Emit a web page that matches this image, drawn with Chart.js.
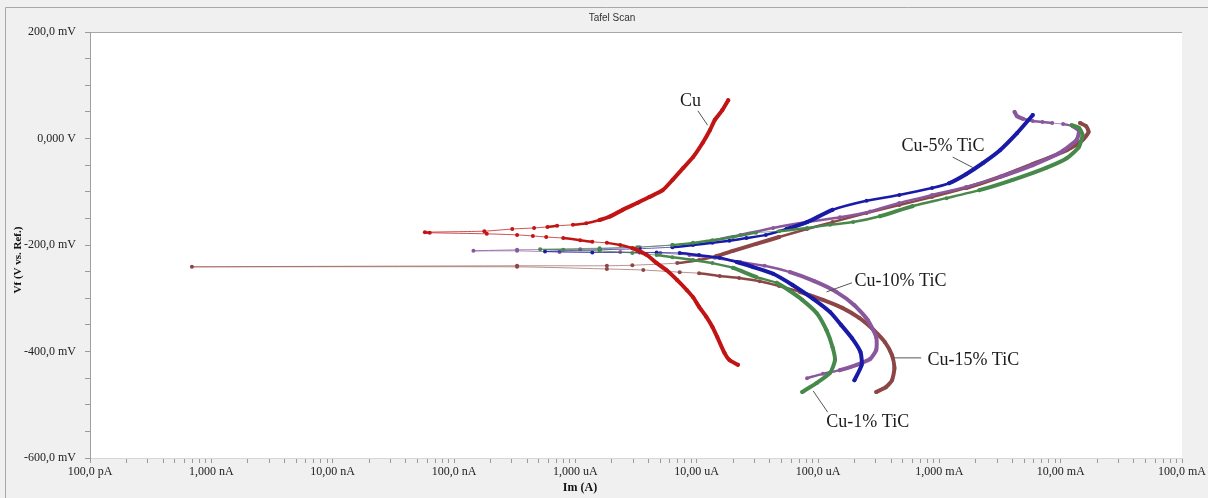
<!DOCTYPE html>
<html>
<head>
<meta charset="utf-8">
<title>Tafel Scan</title>
<script src="https://cdn.jsdelivr.net/npm/chart.js@4/dist/chart.umd.min.js"></script>
<style>
  html, body { margin: 0; padding: 0; background: #f0f0f0; }
  #wrap { width: 1208px; height: 498px; position: relative; }
</style>
</head>
<body>
<div id="wrap"><canvas id="tafelChart"></canvas></div>
<script>
// values: current as log10(A), potential in mV
// each scan runs from the cathodic end, through Ecorr, to the anodic end
const seriesNames = ['Cu', 'Cu-1% TiC', 'Cu-5% TiC', 'Cu-10% TiC', 'Cu-15% TiC'];

const cuLogI = [-4.66, -4.73, -4.77, -4.83, -4.87, -4.92, -4.98, -5.03, -5.08, -5.16, -5.25, -5.33, -5.41,
  -5.53, -5.63, -5.74, -5.86, -5.96, -6.10, -6.24, -6.35, -6.48, -6.73, -7.20, -7.24,
  -6.75, -6.52, -6.34, -6.23, -6.15, -6.02, -5.91, -5.80, -5.72, -5.61, -5.49, -5.39, -5.28, -5.20,
  -5.11, -5.03, -4.95, -4.89, -4.85, -4.79, -4.74];
const cuMv = [-425, -416, -403, -373, -354, -335, -316, -298, -285, -266, -247, -234, -219,
  -206, -200, -196, -194, -191, -187, -185, -183, -181, -179, -177, -176,
  -174, -170, -168, -166, -164, -162, -159, -153, -147, -134, -121, -110, -97, -78,
  -55, -35, -8, 16, 35, 53, 72];

const tic1LogI = [-4.13, -4.01, -3.90, -3.86, -3.88, -3.93, -4.01, -4.13, -4.24, -4.34, -4.51, -4.70, -4.87,
  -5.03, -5.20, -5.33, -5.53, -5.80, -6.10, -6.29,
  -5.80, -5.49, -5.20, -5.03, -4.87, -4.70, -4.51, -4.32, -4.09, -3.90, -3.71, -3.49, -3.22, -2.94,
  -2.67, -2.40, -2.12, -1.95, -1.85, -1.82, -1.85, -1.91];
const tic1Mv = [-476, -459, -440, -416, -392, -360, -328, -303, -285, -271, -260, -243, -234,
  -228, -223, -219, -215, -211, -209, -208,
  -206, -204, -200, -196, -191, -185, -177, -174, -168, -162, -157, -146, -127, -112,
  -97, -78, -55, -37, -16, 7, 20, 25];

const tic5LogI = [-3.70, -3.64, -3.65, -3.72, -3.81, -3.90, -4.04, -4.21, -4.37, -4.54, -4.67, -4.81, -4.98,
  -5.14, -5.33, -5.47, -5.86, -6.25,
  -5.80, -5.47, -5.20, -5.03, -4.87, -4.73, -4.59, -4.43, -4.26, -4.09, -3.88, -3.60, -3.33, -3.06,
  -2.92, -2.78, -2.64, -2.50, -2.36, -2.23];
const tic5Mv = [-454, -425, -401, -375, -350, -326, -301, -275, -254, -241, -232, -224, -219,
  -215, -214, -214, -214, -212,
  -209, -207, -204, -200, -196, -192, -187, -181, -170, -157, -134, -117, -106, -93,
  -84, -67, -46, -22, 10, 44];

const tic10LogI = [-4.09, -3.96, -3.82, -3.68, -3.57, -3.52, -3.52, -3.59, -3.70, -3.85, -4.03, -4.23, -4.44,
  -4.64, -4.85, -5.06, -5.30, -5.63, -6.13, -6.48, -6.84,
  -6.48, -5.96, -5.47, -5.20, -4.92, -4.64, -4.37, -4.09, -3.82, -3.57, -3.33, -3.06, -2.78, -2.50,
  -2.23, -2.01, -1.87, -1.85, -1.90, -1.98, -2.07, -2.15, -2.23, -2.31, -2.36, -2.38];
const tic10Mv = [-450, -442, -435, -425, -414, -397, -373, -341, -313, -288, -268, -251, -239,
  -232, -224, -219, -215, -213, -213, -211, -211,
  -209, -208, -204, -200, -194, -181, -168, -157, -148, -137, -121, -106, -91, -72,
  -50, -27, -3, 14, 23, 27, 29, 31, 33, 37, 42, 50];

const tic15LogI = [-3.52, -3.44, -3.39, -3.37, -3.39, -3.45, -3.54, -3.66, -3.80, -3.96, -4.15, -4.32, -4.48,
  -4.65, -4.81, -4.98, -5.14, -5.44, -5.74, -6.48, -9.16,
  -6.48, -5.74, -5.53, -5.16, -4.98, -4.84, -4.70, -4.51, -4.32, -4.09, -3.88, -3.60, -3.33, -3.06,
  -2.78, -2.50, -2.23, -1.95, -1.82, -1.77, -1.79, -1.84];
const tic15Mv = [-476, -467, -454, -431, -407, -382, -360, -337, -318, -303, -288, -277, -268,
  -262, -258, -253, -251, -247, -245, -241, -241,
  -239, -239, -238, -234, -228, -221, -211, -198, -185, -170, -157, -140, -125, -110,
  -93, -72, -48, -22, -3, 12, 23, 29];

// axis ticks
const xTickLabels = ['100,0 pA', '1,000 nA', '10,00 nA', '100,0 nA', '1,000 uA', '10,00 uA',
  '100,0 uA', '1,000 mA', '10,00 mA', '100,0 mA'];
const yTickValues = [200, 0, -200, -400, -600];
const yTickLabels = ['200,0 mV', '0,000 V', '-200,0 mV', '-400,0 mV', '-600,0 mV'];

// decade ticks plus log minors (2..9)
const xTickValues = [];
xTickLabels.forEach((_, i) => {
  const decade = Math.pow(10, i - 10);
  const last = i === xTickLabels.length - 1;
  for (let k = 1; k <= (last ? 1 : 9); k++) xTickValues.push(k * decade);
});

const colors = ['#c21414', '#46894a', '#1a1aa8', '#8a579c', '#8d4646'];
const thinColors = ['rgba(194,20,20,0.75)', 'rgba(70,137,74,0.7)', 'rgba(26,26,168,0.7)',
  'rgba(138,87,156,0.7)', 'rgba(141,70,70,0.6)'];
const series = [
  [cuLogI, cuMv], [tic1LogI, tic1Mv], [tic5LogI, tic5Mv], [tic10LogI, tic10Mv], [tic15LogI, tic15Mv]
];

// curve labels with leader lines, in data units (log10 A, mV)
const notes = [
  { text: 'Cu', at: [-5.05, 70], line: [[-4.99, 52], [-4.91, 25]] },
  { text: 'Cu-5% TiC', at: [-2.97, -14], line: [[-2.89, -35], [-2.72, -55]] },
  { text: 'Cu-10% TiC', at: [-3.32, -268], line: [[-3.72, -271], [-3.93, -288]] },
  { text: 'Cu-15% TiC', at: [-2.72, -416], line: [[-3.15, -412], [-3.39, -412]] },
  { text: 'Cu-1% TiC', at: [-3.59, -532], line: [[-3.92, -514], [-4.04, -474]] }
];

// the scan points are spread out where the curve runs flat, and pile up where it climbs
function segSlope(ctx) {
  const dx = Math.abs(ctx.p1.x - ctx.p0.x);
  const dy = Math.abs(ctx.p1.y - ctx.p0.y);
  return dy / Math.max(dx, 0.01);
}
function segWidth(ctx) {
  const slope = segSlope(ctx);
  if (slope < 0.1) return 1;
  if (slope < 0.3) return 2.5;
  return 4;
}

const frame = {
  id: 'frame',
  beforeDraw(chart) {
    const { ctx, chartArea: a, width, height } = chart;
    ctx.save();
    ctx.fillStyle = '#f0f0f0';
    ctx.fillRect(0, 0, width, height);
    ctx.fillStyle = '#ffffff';
    ctx.fillRect(a.left, a.top, a.right - a.left, a.bottom - a.top);
    ctx.strokeStyle = '#a8a8a8';
    ctx.lineWidth = 1;
    ctx.beginPath();
    ctx.moveTo(5.5, height);
    ctx.lineTo(5.5, 7.5);
    ctx.lineTo(width, 7.5);
    ctx.moveTo(a.left, a.top + 0.5);
    ctx.lineTo(a.right, a.top + 0.5);
    ctx.stroke();

    ctx.fillStyle = '#333';
    ctx.font = '10px "Liberation Sans", Arial, sans-serif';
    ctx.textAlign = 'center';
    ctx.textBaseline = 'middle';
    ctx.fillText('Tafel Scan', 612, 18);

    ctx.fillStyle = '#111';
    ctx.font = 'bold 12px "Liberation Serif", "Times New Roman", serif';
    ctx.fillText('Im (A)', 580, 488);
    ctx.translate(18, 260);
    ctx.rotate(-Math.PI / 2);
    ctx.font = 'bold 11px "Liberation Serif", "Times New Roman", serif';
    ctx.fillText('Vf (V vs. Ref.)', 0, 0);
    ctx.restore();
  },
  afterDatasetsDraw(chart) {
    const { ctx, scales: { x, y } } = chart;
    const px = p => [x.getPixelForValue(Math.pow(10, p[0])), y.getPixelForValue(p[1])];
    ctx.save();
    ctx.strokeStyle = '#555';
    ctx.lineWidth = 1;
    ctx.fillStyle = '#1a1a1a';
    ctx.font = '18px "Liberation Serif", "Times New Roman", serif';
    ctx.textAlign = 'center';
    ctx.textBaseline = 'middle';
    notes.forEach(n => {
      const [x0, y0] = px(n.line[0]);
      const [x1, y1] = px(n.line[1]);
      ctx.beginPath();
      ctx.moveTo(x0, y0);
      ctx.lineTo(x1, y1);
      ctx.stroke();
      const [tx, ty] = px(n.at);
      ctx.fillText(n.text, tx, ty);
    });
    ctx.restore();
  }
};

const tickFont = { family: '"Liberation Serif", "Times New Roman", serif', size: 12 };

new Chart(document.getElementById('tafelChart'), {
  type: 'scatter',
  data: {
    datasets: series.map(([logI, mv], i) => ({
      label: seriesNames[i],
      data: logI.map((l, j) => ({ x: Math.pow(10, l), y: mv[j] })),
      showLine: true,
      borderColor: colors[i],
      backgroundColor: colors[i],
      borderWidth: 1,
      borderJoinStyle: 'round',
      borderCapStyle: 'round',
      tension: 0.2,
      pointRadius: 2,
      pointBorderWidth: 0,
      pointBackgroundColor: colors[i],
      segment: {
        borderWidth: segWidth,
        borderColor: ctx => (segSlope(ctx) < 0.1 ? thinColors[i] : colors[i])
      }
    }))
  },
  options: {
    responsive: true,
    maintainAspectRatio: false,
    animation: false,
    layout: { padding: { top: 32, right: 25, bottom: 0, left: 0 } },
    plugins: {
      legend: { display: false },
      tooltip: { enabled: false }
    },
    scales: {
      x: {
        type: 'logarithmic',
        min: 1e-10,
        max: 1e-1,
        afterFit: s => { s.height = 40; },
        afterBuildTicks: s => { s.ticks = xTickValues.map(value => ({ value })); },
        ticks: {
          autoSkip: false,
          maxRotation: 0,
          padding: 2,
          color: '#222',
          font: tickFont,
          callback: value => {
            const e = Math.log10(value);
            if (Math.abs(e - Math.round(e)) > 1e-6) return '';
            return xTickLabels[Math.round(e) + 10];
          }
        },
        grid: { drawOnChartArea: false, tickLength: 5, color: '#9a9a9a' },
        border: { color: '#d6d6d6' }
      },
      y: {
        min: -600,
        max: 200,
        afterFit: s => { s.width = 90; },
        ticks: {
          stepSize: 50,
          autoSkip: false,
          padding: 9,
          color: '#222',
          font: tickFont,
          callback: value => {
            const i = yTickValues.findIndex(v => Math.abs(v - value) < 1e-6);
            return i < 0 ? '' : yTickLabels[i];
          }
        },
        grid: { drawOnChartArea: false, tickLength: 5, color: '#9a9a9a' },
        border: { color: '#a0a0a0' }
      }
    }
  },
  plugins: [frame]
});
</script>
</body>
</html>
